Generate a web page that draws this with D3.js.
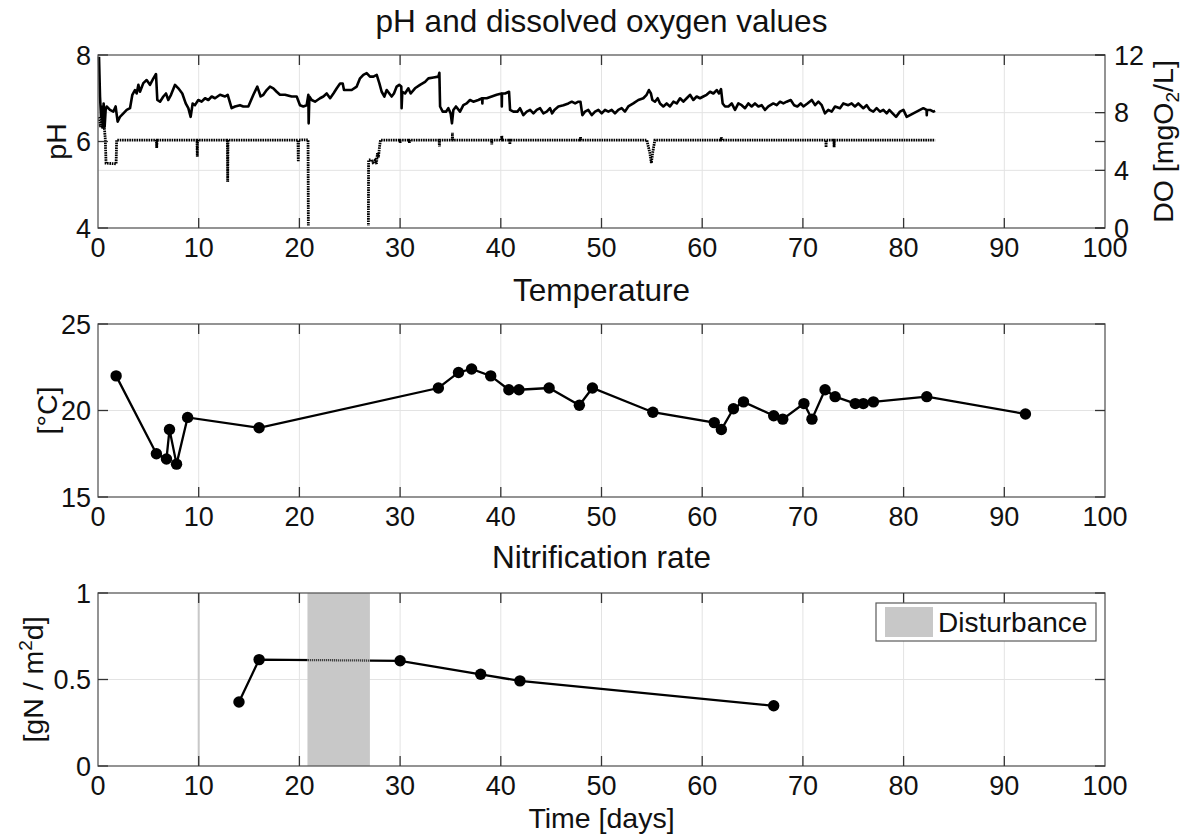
<!DOCTYPE html>
<html><head><meta charset="utf-8">
<script src="https://cdn.jsdelivr.net/npm/d3@7/dist/d3.min.js"></script>
<style>body{margin:0;background:#fff}svg text{font-family:'Liberation Sans',Arial,Helvetica,sans-serif;fill:#111}</style>
</head><body>
<svg id="c" width="1196" height="836"></svg>
<script>
// ---------- data ----------
const titles = ["pH and dissolved oxygen values", "Temperature", "Nitrification rate"];
const xLabel = "Time [days]";
const xTickValues = [0,10,20,30,40,50,60,70,80,90,100];
const phTicks = [4,6,8];
const doTicks = [0,4,8,12];
const tempTicks = [15,20,25];
const nitTicks = [0,0.5,1];

// pH (day, pH)
const phSeries = [[0.10,7.96],[0.20,7.04],[0.30,6.57],[0.36,6.81],[0.46,6.42],[0.56,6.88],[0.66,6.34],[0.76,6.73],[0.86,6.81],
[1.19,6.73],[1.52,6.69],[1.75,6.81],[1.95,6.46],[2.18,6.57],[2.52,6.65],[2.85,6.73],[3.18,6.77],[3.41,7.08],[3.67,7.19],[3.84,7.11],[4.01,7.31],[4.17,7.15],[4.50,7.35],[4.83,7.42],[5.16,7.31],[5.50,7.46],[5.76,7.56],[5.89,6.96],[6.16,6.92],[6.49,7.04],[6.75,7.11],[6.98,6.96],[7.25,7.08],[7.65,7.31],[7.98,7.23],[8.37,7.11],[8.71,6.88],[8.97,6.77],[9.20,6.57],[9.40,6.88],[9.63,6.84],[9.96,6.96],[10.29,6.92],[10.63,7.00],[10.96,6.96],[11.29,7.04],[11.62,7.00],[12.12,7.08],[12.61,7.04],[12.88,7.08],[13.27,6.77],[13.61,6.81],[14.10,6.84],[14.43,6.81],[14.93,6.81],[15.43,7.08],[15.82,7.27],[16.15,7.04],[16.42,7.08],[16.75,7.19],[17.08,7.27],[17.41,7.23],[17.74,7.15],[18.07,7.08],[18.57,7.08],[19.23,7.04],[19.73,7.04],[20.06,6.84],[20.39,6.81],[20.72,6.84],[20.89,7.08],[20.92,6.42],[20.99,7.04],[21.22,6.96],[21.55,6.92],[22.05,7.00],[22.38,7.04],[22.71,7.11],[23.05,7.00],[23.38,7.11],[23.71,7.23],[24.04,7.34],[24.30,7.34],[24.43,7.19],[24.70,7.19],[25.19,7.19],[25.69,7.27],[26.02,7.46],[26.35,7.54],[26.68,7.58],[27.01,7.50],[27.35,7.50],[27.68,7.54],[27.95,7.34],[28.17,7.15],[28.44,7.04],[28.67,7.19],[28.93,7.11],[29.16,7.04],[29.39,7.11],[29.66,7.27],[29.91,7.31],[30.12,7.27],[30.15,6.77],[30.22,7.15],[30.49,7.11],[30.82,7.23],[31.05,7.11],[31.48,7.23],[31.98,7.31],[32.48,7.38],[32.81,7.46],[33.31,7.48],[33.80,7.50],[33.90,7.59],[33.97,6.81],[34.23,6.69],[34.56,6.69],[34.79,6.77],[35.02,6.65],[35.15,6.42],[35.29,6.73],[35.55,6.81],[35.95,6.69],[36.28,6.84],[36.61,6.88],[36.94,6.96],[37.27,6.92],[37.77,6.96],[38.15,7.00],[38.17,6.88],[38.19,7.00],[38.60,7.00],[39.10,7.04],[39.59,7.08],[40.08,7.11],[40.10,6.81],[40.12,7.11],[40.42,7.11],[40.82,7.15],[40.92,6.73],[41.25,6.69],[41.65,6.69],[41.91,6.77],[42.24,6.61],[42.58,6.69],[42.91,6.73],[43.24,6.65],[43.57,6.73],[43.90,6.77],[44.23,6.65],[44.56,6.69],[44.89,6.77],[45.10,6.65],[45.32,6.73],[45.72,6.81],[46.22,6.84],[46.71,6.88],[47.05,6.92],[47.38,6.88],[47.71,6.92],[47.91,6.92],[48.10,6.61],[48.36,6.69],[48.69,6.73],[49.03,6.61],[49.36,6.69],[49.69,6.73],[50.02,6.65],[50.35,6.73],[50.68,6.69],[51.01,6.73],[51.34,6.65],[51.67,6.73],[52.00,6.77],[52.33,6.69],[52.66,6.81],[53.16,6.88],[53.66,6.96],[54.15,7.00],[54.48,7.08],[54.71,7.19],[54.91,7.11],[55.05,6.96],[55.31,6.92],[55.58,7.00],[55.81,6.88],[56.14,6.81],[56.47,6.88],[56.80,6.81],[57.14,6.92],[57.47,6.88],[57.80,7.00],[58.13,6.92],[58.46,7.00],[58.79,7.08],[59.12,6.96],[59.45,7.04],[59.78,7.00],[60.11,7.04],[60.44,7.08],[60.78,7.15],[61.11,7.11],[61.44,7.19],[61.67,7.11],[61.87,7.21],[62.03,6.88],[62.27,6.81],[62.60,6.81],[62.93,6.88],[63.26,6.73],[63.59,6.88],[63.92,6.84],[64.25,6.77],[64.58,6.88],[64.91,6.81],[65.24,6.88],[65.58,6.81],[65.91,6.84],[66.24,6.73],[66.57,6.81],[67.06,6.88],[67.40,6.84],[67.73,6.92],[68.06,6.88],[68.39,6.92],[68.79,6.96],[69.12,6.84],[69.45,6.81],[69.78,6.88],[70.05,6.81],[70.45,6.88],[70.88,6.96],[71.21,6.84],[71.54,6.92],[71.87,6.84],[72.19,6.65],[72.52,6.73],[72.86,6.69],[73.19,6.81],[73.68,6.77],[74.01,6.88],[74.51,6.84],[74.84,6.88],[75.17,6.81],[75.50,6.88],[76.00,6.77],[76.33,6.84],[76.66,6.73],[76.99,6.69],[77.32,6.77],[77.66,6.69],[77.99,6.73],[78.32,6.65],[78.58,6.73],[78.91,6.65],[79.25,6.57],[79.64,6.69],[79.98,6.73],[80.31,6.57],[80.64,6.61],[80.97,6.65],[81.30,6.69],[81.63,6.73],[81.96,6.77],[82.28,6.73],[82.30,6.61],[82.32,6.73],[82.63,6.73],[82.96,6.69],[83.13,6.71]];

// dissolved oxygen (day, mgO2/L)
const doSeries = [[0.10,7.7],[0.25,7.0],[0.35,7.6],[0.45,6.9],[0.55,7.4],[0.65,6.8],[0.72,6.2],[0.80,4.5],[1.80,4.45],[1.85,6.1],[5.80,6.1],[5.83,5.55],[5.86,6.1],[9.83,6.1],[9.86,4.95],[9.89,6.1],[12.85,6.1],[12.88,3.2],[12.91,6.1],[19.86,6.1],[19.89,4.6],[19.92,6.1],[20.86,6.12],[20.89,0],[26.85,0],[26.87,4.7],[27.1,4.75],[27.3,4.55],[27.5,4.7],[27.65,4.45],[27.75,5.2],[27.85,4.9],[27.95,5.6],[28.05,6.1],[29.98,6.1],[30.0,5.9],[30.02,6.1],[30.9,6.1],[30.92,5.9],[30.94,6.1],[33.88,6.1],[33.9,5.65],[33.92,6.1],[35.18,6.1],[35.2,6.6],[35.22,6.1],[39.08,6.1],[39.1,5.8],[39.12,6.1],[40.08,6.1],[40.1,6.4],[40.12,6.1],[40.88,6.1],[40.9,5.8],[40.92,6.1],[47.9,6.1],[47.92,6.3],[47.94,6.1],[54.5,6.1],[54.8,5.2],[54.95,4.5],[55.1,5.3],[55.3,6.1],[61.88,6.1],[61.9,6.3],[61.92,6.1],[72.28,6.1],[72.3,5.6],[72.32,6.1],[73.08,6.1],[73.1,5.6],[73.12,6.1],[83.13,6.1]];

// temperature (°C)
const tempDays = [1.8,5.8,6.8,7.1,7.8,8.9,16.0,33.8,35.8,37.1,39.0,40.8,41.8,44.8,47.8,49.1,55.1,61.2,61.9,63.1,64.1,67.1,68.0,70.1,70.9,72.2,73.2,75.2,76.0,77.0,82.3,92.1];
const tempVals = [22.0,17.5,17.2,18.9,16.9,19.6,19.0,21.3,22.2,22.4,22.0,21.2,21.2,21.3,20.3,21.3,19.9,19.3,18.9,20.1,20.5,19.7,19.5,20.4,19.5,21.2,20.8,20.4,20.4,20.5,20.8,19.8];

// nitrification rate (gN / m2 d)
const nitDays = [14.0,16.0,30.0,38.0,41.9,67.1];
const nitVals = [0.37,0.615,0.608,0.53,0.492,0.348];

// disturbance periods (start day, end day)
const disturbances = [[9.9,10.1],[20.8,27.0]];
const legendLabel = "Disturbance";

// ---------- layout ----------
const svg = d3.select('#c');
const X0 = 98, X1 = 1105, PH = 173;
const tops = [55, 324, 593];
const FS = 27;      // tick labels
const TF = 31.5;    // panel titles
const LF = 28.5;    // axis labels
const x = d3.scaleLinear().domain([0,100]).range([X0, X1]);
const gridColor = '#e3e3e3', axisColor = '#5a5a5a', tickColor = '#333';

function panel(top, yL, ticksL, fmtL, gridVals, yR, ticksR, fmtR) {
  const g = svg.append('g');
  const bottom = top + PH;
  g.selectAll('.vg').data(xTickValues.slice(1,-1)).join('line')
    .attr('x1', d=>x(d)).attr('x2', d=>x(d)).attr('y1', top).attr('y2', bottom)
    .attr('stroke', gridColor).attr('stroke-width', 1);
  g.selectAll('.hg').data(gridVals).join('line')
    .attr('x1', X0).attr('x2', X1).attr('y1', d=>d.s(d.v)).attr('y2', d=>d.s(d.v))
    .attr('stroke', gridColor).attr('stroke-width', 1);
  return {g, top, bottom, yL, ticksL, fmtL, yR, ticksR, fmtR};
}
function frame(p) {
  const {top, bottom} = p;
  const f = svg.append('g');
  f.append('rect').attr('x', X0).attr('y', top).attr('width', X1-X0).attr('height', PH)
    .attr('fill', 'none').attr('stroke', axisColor).attr('stroke-width', 1.3);
  const tl = 10;
  const tick = (x1,y1,x2,y2)=>f.append('line').attr('x1',x1).attr('y1',y1).attr('x2',x2).attr('y2',y2).attr('stroke', tickColor).attr('stroke-width',1.3);
  xTickValues.slice(1,-1).forEach(v => {
    tick(x(v), bottom, x(v), bottom-tl);
    tick(x(v), top, x(v), top+tl);
  });
  f.selectAll('.xt').data(xTickValues).join('text')
    .attr('x', d=>x(d)).attr('y', bottom+29).attr('text-anchor','middle')
    .attr('font-size', FS).text(d=>d);
  p.ticksL.forEach(v => {
    const yy = p.yL(v);
    tick(X0, yy, X0+tl, yy);
    tick(X1, yy, X1-tl, yy);
  });
  f.selectAll('.yl').data(p.ticksL).join('text')
    .attr('x', 91).attr('y', d=>p.yL(d)+9.7).attr('text-anchor','end')
    .attr('font-size', FS).text(p.fmtL);
  if (p.yR) {
    p.ticksR.forEach(v => {
      const yy = p.yR(v);
      tick(X1, yy, X1-tl, yy);
    });
    f.selectAll('.yr').data(p.ticksR).join('text')
      .attr('x', 1114).attr('y', d=>p.yR(d)+9.7).attr('text-anchor','start')
      .attr('font-size', FS).text(p.fmtR);
  }
  return f;
}

const defs = svg.append('defs');
defs.append('clipPath').attr('id','clipTop').append('rect')
  .attr('x', X0).attr('y', tops[0]).attr('width', X1-X0).attr('height', PH-2.5);

// ---------- panel 1: pH & DO ----------
const yPH = d3.scaleLinear().domain([4,8]).range([tops[0]+PH, tops[0]]);
const yDO = d3.scaleLinear().domain([0,12]).range([tops[0]+PH, tops[0]]);
const p1 = panel(tops[0], yPH, phTicks, d=>d, [{s:yDO,v:4},{s:yDO,v:8}], yDO, doTicks, d=>d);
p1.g.append('path').datum(doSeries).attr('clip-path','url(#clipTop)')
  .attr('d', d3.line().x(d=>x(d[0])).y(d=>yDO(d[1])))
  .attr('fill','none').attr('stroke','#000').attr('stroke-width',2.8).attr('stroke-dasharray','1.6,0.8');
p1.g.append('path').datum(phSeries)
  .attr('d', d3.line().x(d=>x(d[0])).y(d=>yPH(d[1])))
  .attr('fill','none').attr('stroke','#000').attr('stroke-width',2.6).attr('stroke-linejoin','round');
frame(p1);

// ---------- panel 2: temperature ----------
const yT = d3.scaleLinear().domain([15,25]).range([tops[1]+PH, tops[1]]);
const p2 = panel(tops[1], yT, tempTicks, d=>d, [{s:yT,v:20}], null);
const tData = tempDays.map((d,i)=>[d, tempVals[i]]);
p2.g.append('path').datum(tData)
  .attr('d', d3.line().x(d=>x(d[0])).y(d=>yT(d[1])))
  .attr('fill','none').attr('stroke','#000').attr('stroke-width',2.3);
p2.g.selectAll('circle').data(tData).join('circle')
  .attr('cx', d=>x(d[0])).attr('cy', d=>yT(d[1])).attr('r', 5.7).attr('fill','#000');
frame(p2);

// ---------- panel 3: nitrification ----------
const yN = d3.scaleLinear().domain([0,1]).range([tops[2]+PH, tops[2]]);
const p3 = panel(tops[2], yN, nitTicks, d=>d, [{s:yN,v:0.5}], null);
const nData = nitDays.map((d,i)=>[d, nitVals[i]]);
const nLine = d3.line().x(d=>x(d[0])).y(d=>yN(d[1]));
p3.g.append('path').datum(nData).attr('d', nLine)
  .attr('fill','none').attr('stroke','#000').attr('stroke-width',2.3);
defs.selectAll('.dcp').data(disturbances).join('clipPath')
  .attr('id', (d,i)=>'dc'+i)
  .append('rect').attr('x', d=>x(d[0])).attr('width', d=>x(d[1])-x(d[0]))
  .attr('y', tops[2]).attr('height', PH);
p3.g.selectAll('.dist').data(disturbances).join('rect')
  .attr('x', d=>x(d[0])).attr('width', d=>x(d[1])-x(d[0]))
  .attr('y', tops[2]).attr('height', PH).attr('fill', '#c8c8c8');
disturbances.forEach((d,i)=>{
  p3.g.append('path').datum(nData).attr('d', nLine).attr('clip-path', `url(#dc${i})`)
    .attr('fill','none').attr('stroke','#222').attr('stroke-width',2.3).attr('stroke-dasharray','1,1');
});
p3.g.selectAll('circle').data(nData).join('circle')
  .attr('cx', d=>x(d[0])).attr('cy', d=>yN(d[1])).attr('r', 5.7).attr('fill','#000');
frame(p3);

// legend
const lg = svg.append('g');
lg.append('rect').attr('x', 876).attr('y', 603).attr('width', 220).attr('height', 38)
  .attr('fill','#fff').attr('stroke', axisColor).attr('stroke-width',1.2);
lg.append('rect').attr('x', 885).attr('y', 607).attr('width', 48).attr('height', 30).attr('fill','#c8c8c8');
lg.append('text').attr('x', 938).attr('y', 632).attr('font-size', 28).text(legendLabel);

// titles and labels
const cx = (X0+X1)/2;
svg.append('text').attr('x', cx).attr('y', 32).attr('text-anchor','middle').attr('font-size',TF).text(titles[0]);
svg.append('text').attr('x', cx).attr('y', 301).attr('text-anchor','middle').attr('font-size',TF).text(titles[1]);
svg.append('text').attr('x', cx).attr('y', 568).attr('text-anchor','middle').attr('font-size',TF).text(titles[2]);
svg.append('text').attr('x', cx).attr('y', 828).attr('text-anchor','middle').attr('font-size',LF).text(xLabel);

svg.append('text').attr('transform', `translate(66,${tops[0]+PH/2}) rotate(-90)`).attr('text-anchor','middle').attr('font-size',LF).text('pH');
const doL = svg.append('text').attr('transform', `translate(1173,${tops[0]+PH/2}) rotate(-90)`).attr('text-anchor','middle').attr('font-size',LF);
doL.append('tspan').text('DO [mgO');
doL.append('tspan').attr('font-size',19).attr('dy',6).text('2');
doL.append('tspan').attr('dy',-6).text('/L]');
svg.append('text').attr('transform', `translate(57,${tops[1]+PH/2}) rotate(-90)`).attr('text-anchor','middle').attr('font-size',LF).text('[°C]');
const nL = svg.append('text').attr('transform', `translate(43,${tops[2]+PH/2}) rotate(-90)`).attr('text-anchor','middle').attr('font-size',LF);
nL.append('tspan').text('[gN / m');
nL.append('tspan').attr('font-size',19).attr('dy',-11).text('2');
nL.append('tspan').attr('dy',11).text('d]');
</script>
</body></html>
